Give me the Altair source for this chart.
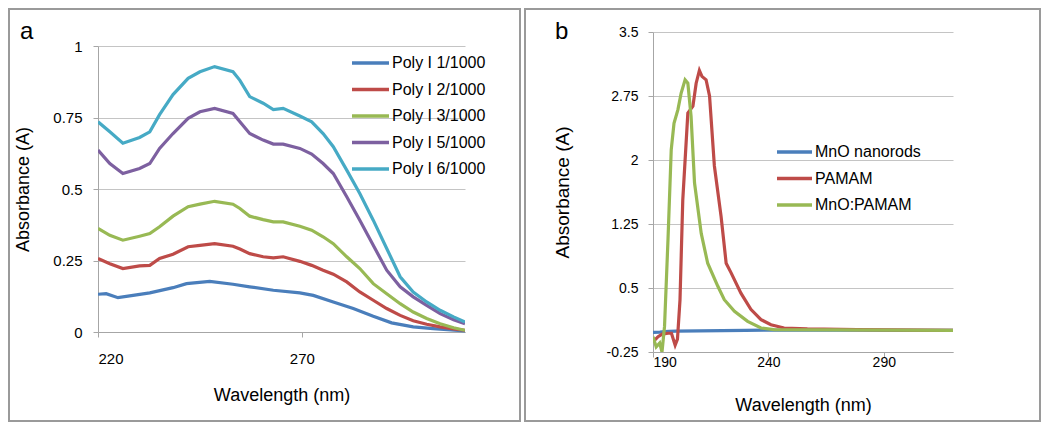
import altair as alt
import pandas as pd

FONT = "Liberation Sans"

# ---------------- Panel a data ----------------
a_names = ["Poly I 1/1000", "Poly I 2/1000", "Poly I 3/1000", "Poly I 5/1000", "Poly I 6/1000"]
a_colors = ["#4A7EBB", "#BE4B48", "#98B954", "#7D60A0", "#46AAC5"]

a1_x = [220, 222, 224.9, 228.6, 232.7, 238.4, 241.7, 247.4, 253.1, 257.2, 263, 269.5, 272.8, 277.7, 282.6, 287.5, 292, 297.3, 302.2, 310]
a1_y = [0.132, 0.134, 0.120, 0.128, 0.137, 0.155, 0.169, 0.177, 0.167, 0.158, 0.146, 0.137, 0.128, 0.105, 0.082, 0.055, 0.032, 0.018, 0.012, 0.004]

a_common_x = [220, 222.9, 226.1, 230.2, 232.7, 235.1, 238.4, 242.1, 245, 248.6, 253.1, 254.8, 257.2, 260.5, 263, 265.4,
              269.5, 272.4, 275.2, 277.7, 281, 284.2, 287.5, 290.8, 294.1, 297.3, 300.6, 303.9, 307.2, 310]
a2_y = [0.257, 0.239, 0.222, 0.231, 0.233, 0.257, 0.272, 0.298, 0.303, 0.309, 0.300, 0.290, 0.274, 0.263, 0.259, 0.263,
        0.247, 0.233, 0.216, 0.202, 0.175, 0.140, 0.111, 0.082, 0.058, 0.039, 0.027, 0.018, 0.011, 0.006]
a3_y = [0.362, 0.338, 0.321, 0.335, 0.344, 0.368, 0.405, 0.438, 0.447, 0.457, 0.447, 0.432, 0.405, 0.393, 0.385, 0.385,
        0.370, 0.356, 0.333, 0.309, 0.263, 0.222, 0.169, 0.134, 0.099, 0.070, 0.047, 0.029, 0.015, 0.006]
a5_y = [0.636, 0.589, 0.554, 0.572, 0.589, 0.642, 0.694, 0.747, 0.770, 0.782, 0.764, 0.735, 0.694, 0.671, 0.657, 0.657,
        0.642, 0.622, 0.589, 0.554, 0.473, 0.391, 0.303, 0.216, 0.158, 0.123, 0.093, 0.064, 0.043, 0.029]
a6_y = [0.735, 0.700, 0.660, 0.680, 0.700, 0.760, 0.830, 0.887, 0.910, 0.928, 0.910, 0.880, 0.823, 0.800, 0.778, 0.782,
        0.755, 0.735, 0.694, 0.648, 0.566, 0.484, 0.391, 0.292, 0.193, 0.140, 0.105, 0.076, 0.053, 0.035]

# ---------------- Panel b data ----------------
b_names = ["MnO nanorods", "PAMAM", "MnO:PAMAM"]
b_colors = ["#4A7EBB", "#BE4B48", "#98B954"]

b1_x = [190, 193, 195, 197, 200, 210, 220, 230, 240, 250, 260, 280, 300, 320]
b1_y = [-0.020, -0.018, -0.012, -0.008, -0.005, -0.002, 0.000, 0.003, 0.006, 0.005, 0.005, 0.005, 0.004, 0.004]

b2_x = [190, 192.2, 194, 196.5, 198, 199.6, 200.6, 201.7, 202.9, 205.1, 207.3, 208.7, 210.1, 211.2, 213, 214.5,
        216.6, 219.5, 221.7, 223.8, 228.1, 232.4, 236.8, 241.1, 246.8, 256.9, 278.5, 320]
b2_y = [-0.13, -0.07, -0.04, -0.03, -0.03, -0.17, -0.10, 0.36, 1.53, 2.55, 2.63, 2.90, 3.05, 2.98, 2.94, 2.75,
        1.93, 1.34, 0.79, 0.68, 0.44, 0.25, 0.13, 0.07, 0.031, 0.02, 0.012, 0.004]

b3_x = [190, 191.4, 192.9, 193.9, 195, 196.5, 197.9, 199.1, 200.8, 202.2, 203.9, 205.1, 206.5, 208, 210.9, 213.7,
        218.1, 220.9, 225.3, 231, 236.8, 242.5, 320]
b3_y = [-0.07, -0.19, -0.145, -0.25, 0.05, 1.07, 2.12, 2.43, 2.59, 2.785, 2.94, 2.90, 2.51, 1.73, 1.14, 0.79,
        0.52, 0.363, 0.227, 0.109, 0.031, 0.012, 0.004]


def long(series):
    rows = []
    for name, xs, ys in series:
        for x, y in zip(xs, ys):
            rows.append({"series": name, "wl": x, "abs": y})
    return pd.DataFrame(rows)


df_a = long([
    (a_names[0], a1_x, a1_y),
    (a_names[1], a_common_x, a2_y),
    (a_names[2], a_common_x, a3_y),
    (a_names[3], a_common_x, a5_y),
    (a_names[4], a_common_x, a6_y),
])
df_b = long([
    (b_names[0], b1_x, b1_y),
    (b_names[1], b2_x, b2_y),
    (b_names[2], b3_x, b3_y),
])

one = pd.DataFrame({"k": [0]})
BORDER = "#9a9a9a"

# ---------------- Panel a ----------------
WA, H = 367, 320
lines_a = alt.Chart(df_a).mark_line(strokeWidth=3.2, clip=True).encode(
    x=alt.X("wl:Q", scale=alt.Scale(domain=[220, 310], nice=False),
            axis=alt.Axis(values=[220, 270], grid=False, offset=-20, tickSize=5, labelPadding=14,
                          labelFontSize=15, title="Wavelength (nm)", titleFontSize=18,
                          titleY=63, titleBaseline="middle")),
    y=alt.Y("abs:Q", scale=alt.Scale(domain=[0, 1], range=[300, 14], nice=False),
            axis=alt.Axis(values=[0, 0.25, 0.5, 0.75, 1], labelExpr="toString(datum.value)", tickSize=5,
                          labelPadding=11, labelFontSize=15, title="Absorbance (A)", titleFontSize=18,
                          titleX=-75, titleBaseline="middle")),
    color=alt.Color("series:N", scale=alt.Scale(domain=a_names, range=a_colors),
                    legend=alt.Legend(orient="none", legendX=252, legendY=19, title=None,
                                      symbolType="stroke", symbolSize=1369, symbolStrokeWidth=3.5,
                                      labelFontSize=16, labelOffset=1, rowPadding=2.5, clipHeight=24,
                                      padding=0)),
)
border_a = alt.Chart(one).mark_rect(fillOpacity=0, stroke=BORDER, strokeWidth=2).encode(
    x=alt.value(-89), x2=alt.value(422), y=alt.value(-23), y2=alt.value(389))
label_a = alt.Chart(one).mark_text(text="a", fontSize=24, font=FONT, align="left", baseline="alphabetic",
                                   color="#000").encode(x=alt.value(-78), y=alt.value(7))
panel_a = alt.layer(border_a, lines_a, label_a).properties(width=WA, height=H)

# ---------------- Panel b ----------------
WB = 300
lines_b = alt.Chart(df_b).mark_line(strokeWidth=3.2, clip=True).encode(
    x=alt.X("wl:Q", scale=alt.Scale(domain=[190, 320], nice=False),
            axis=alt.Axis(values=[190, 240, 290], grid=False, tickSize=5, labelPadding=-2,
                          labelFontSize=14, title="Wavelength (nm)", titleFontSize=18,
                          titleY=53, titleBaseline="middle")),
    y=alt.Y("abs:Q", scale=alt.Scale(domain=[-0.25, 3.5], nice=False),
            axis=alt.Axis(values=[-0.25, 0.5, 1.25, 2, 2.75, 3.5], labelExpr="toString(datum.value)",
                          tickSize=5, labelPadding=10, labelFontSize=14, title="Absorbance (A)",
                          titleFontSize=19, titleX=-91, titleBaseline="middle")),
    color=alt.Color("series:N", scale=alt.Scale(domain=b_names, range=b_colors),
                    legend=alt.Legend(orient="none", legendX=122, legendY=108, title=None,
                                      symbolType="stroke", symbolSize=1225, symbolStrokeWidth=3.5,
                                      labelFontSize=16, labelOffset=1, rowPadding=2.5, clipHeight=24,
                                      padding=0)),
)
border_b = alt.Chart(one).mark_rect(fillOpacity=0, stroke=BORDER, strokeWidth=2).encode(
    x=alt.value(-128), x2=alt.value(387), y=alt.value(-23), y2=alt.value(389))
label_b = alt.Chart(one).mark_text(text="b", fontSize=24, font=FONT, align="left", baseline="alphabetic",
                                   color="#000").encode(x=alt.value(-98), y=alt.value(7))
panel_b = alt.layer(border_b, lines_b, label_b).properties(width=WB, height=H)

chart = alt.hconcat(panel_a, panel_b, spacing=188, bounds="flush").resolve_scale(
    color="independent"
).properties(padding=0).configure_view(stroke=None).configure_axis(
    labelFont=FONT, titleFont=FONT, labelColor="#000", titleColor="#000", titleFontWeight="normal",
    domainColor="#a6a6a6", tickColor="#a6a6a6", gridColor="#c4c4c4", domainWidth=1, gridWidth=1
).configure_legend(labelFont=FONT, labelColor="#000")

chart.save("out.html", embed_options={"renderer": "svg", "actions": False})
